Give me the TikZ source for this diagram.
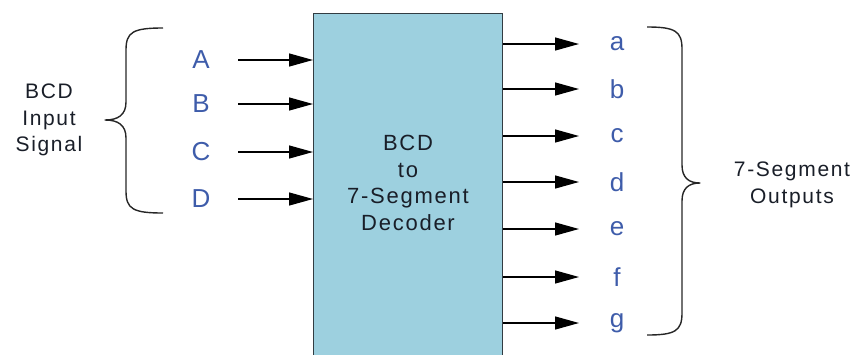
\documentclass[tikz,border=0pt]{standalone}
\usepackage{fontspec}
\setmainfont{Liberation Sans}
\newfontfamily\lblfont[LetterSpace=8]{Liberation Sans}
\usetikzlibrary{arrows.meta}
\definecolor{boxfill}{RGB}{157,208,223}
\definecolor{boxline}{RGB}{50,60,66}
\definecolor{sigblue}{RGB}{62,92,170}
\definecolor{txt}{RGB}{25,30,40}
\begin{document}
\begin{tikzpicture}[x=1pt,y=-1pt,
  sig/.style={text=sigblue,font=\fontsize{26}{30}\selectfont,inner sep=0pt,anchor=center},
  note/.style={text=txt,font=\lblfont\fontsize{21}{26.5}\selectfont,align=center,inner sep=0pt},
  conn/.style={line width=1.3pt,-{Triangle[length=24pt,width=13pt]}},
  brace/.style={line width=1.4pt,draw=black!85,line join=round}]
\useasboundingbox (0,0) rectangle (864,354);
\clip (0,0) rectangle (864,354);
% decoder box
\node[draw=boxline,line width=1.2pt,fill=boxfill,minimum width=189pt,minimum height=360pt,inner sep=0pt,anchor=north west] (dec) at (313,13) {};
\node[note,font=\lblfont\fontsize{22}{26.7}\selectfont] (dectxt) at (408,183) {BCD\\to\\7-Segment\\Decoder};
% inputs
\foreach \n/\y in {A/60,B/104,C/152,D/199}{
  \node[sig] (in\n) at (201,\y) {\n};
  \coordinate (s\n) at (238,\y);
  \draw[conn] (s\n) -- (s\n -| dec.west);
}
% outputs
\foreach \n/\y in {a/44,b/89,c/136,d/182,e/229,f/277,g/323}{
  \node[sig] (out\n) at (617,\y) {\n};
  \coordinate (t\n) at (579,\y);
  \draw[conn] (t\n -| dec.east) -- (t\n);
}
% left brace
\draw[brace] (163,28) .. controls (133,28) and (126,32) .. (126,50)
  -- (126,102) .. controls (126,115) and (118,120) .. (105,120)
  .. controls (118,120) and (126,125) .. (126,138)
  -- (126,191) .. controls (126,209) and (133,213) .. (163,213);
\node[note] (inlbl) at (49,120) {BCD\\Input\\Signal};
% right brace
\draw[brace] (647,27) .. controls (675,27) and (682,31) .. (682,49)
  -- (682,165) .. controls (682,178) and (689,183) .. (700,183)
  .. controls (689,183) and (682,188) .. (682,201)
  -- (682,313) .. controls (682,331) and (675,335) .. (647,335);
\node[note] (outlbl) at (792,185) {7-Segment\\Outputs};
\end{tikzpicture}
\end{document}
